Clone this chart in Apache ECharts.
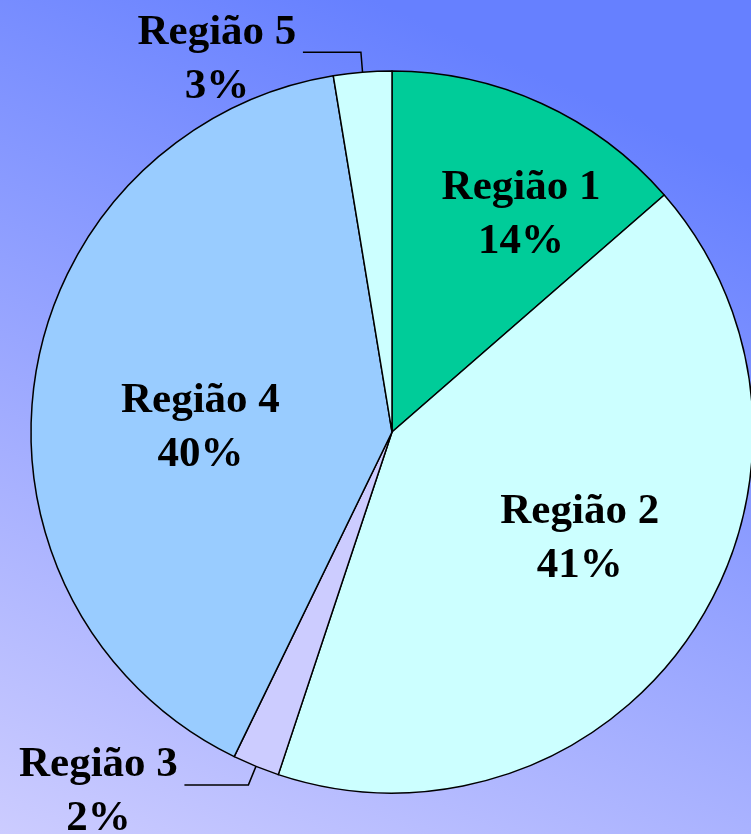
<!DOCTYPE html>
<html>
<head>
<meta charset="utf-8">
<script src="https://cdn.jsdelivr.net/npm/echarts@6/dist/echarts.min.js"></script>
<style>
  html, body { margin: 0; padding: 0; }
  #chart { width: 751px; height: 834px; }
</style>
</head>
<body>
<div id="chart"></div>
<script>
// dados (fatias medidas na figura; rótulos arredondados dão 14/41/2/40/3)
var regioes = ['Região 1', 'Região 2', 'Região 3', 'Região 4', 'Região 5'];
var valores = [13.6, 41.5, 2.1, 40.2, 2.6];
var cores = ['#00cc99', '#ccffff', '#ccccff', '#99ccff', '#ccffff'];

// rótulos de fora (3 e 5) e ajuste fino dos rótulos
var fora = [false, false, true, false, true];
var ajuste = [[53, -50], [35, 5], [0, 7], [-10, 22], [0, 8]];
var linha2 = [0, 0, 64, 0, 58];

var chart = echarts.init(document.getElementById('chart'));

var fonte = {
  fontFamily: '"Liberation Serif", "Times New Roman", serif',
  fontWeight: 'bold',
  fontSize: 43,
  lineHeight: 54,
  color: '#000'
};

var dados = regioes.map(function (nome, i) {
  var item = {
    name: nome,
    value: valores[i],
    itemStyle: { color: cores[i] }
  };
  if (fora[i]) {
    item.label = { position: 'outside' };
    item.labelLine = { show: true, length: 20, length2: linha2[i] };
  } else {
    item.label = { position: 'inside' };
    item.labelLine = { show: false };
  }
  return item;
});

chart.setOption({
  backgroundColor: {
    type: 'linear',
    x: 0.5, y: 0, x2: 0, y2: 1,
    colorStops: [
      { offset: 0, color: '#6680ff' },
      { offset: 1, color: '#ccccff' }
    ]
  },
  animation: false,
  series: [{
    type: 'pie',
    center: [392, 432],
    radius: 361,
    startAngle: 90,
    clockwise: true,
    percentPrecision: 0,
    avoidLabelOverlap: false,
    itemStyle: { borderColor: '#000', borderWidth: 1.5 },
    label: {
      show: true,
      formatter: '{t|{b}}\n{t|{d}%}',
      distanceToLabelLine: 5,
      rich: {
        t: Object.assign({ width: 162, align: 'center' }, fonte)
      }
    },
    labelLine: {
      lineStyle: { color: '#000', width: 1.5 }
    },
    labelLayout: function (p) {
      var a = ajuste[p.dataIndex];
      return { dx: a[0], dy: a[1] };
    },
    data: dados
  }]
});
</script>
</body>
</html>
